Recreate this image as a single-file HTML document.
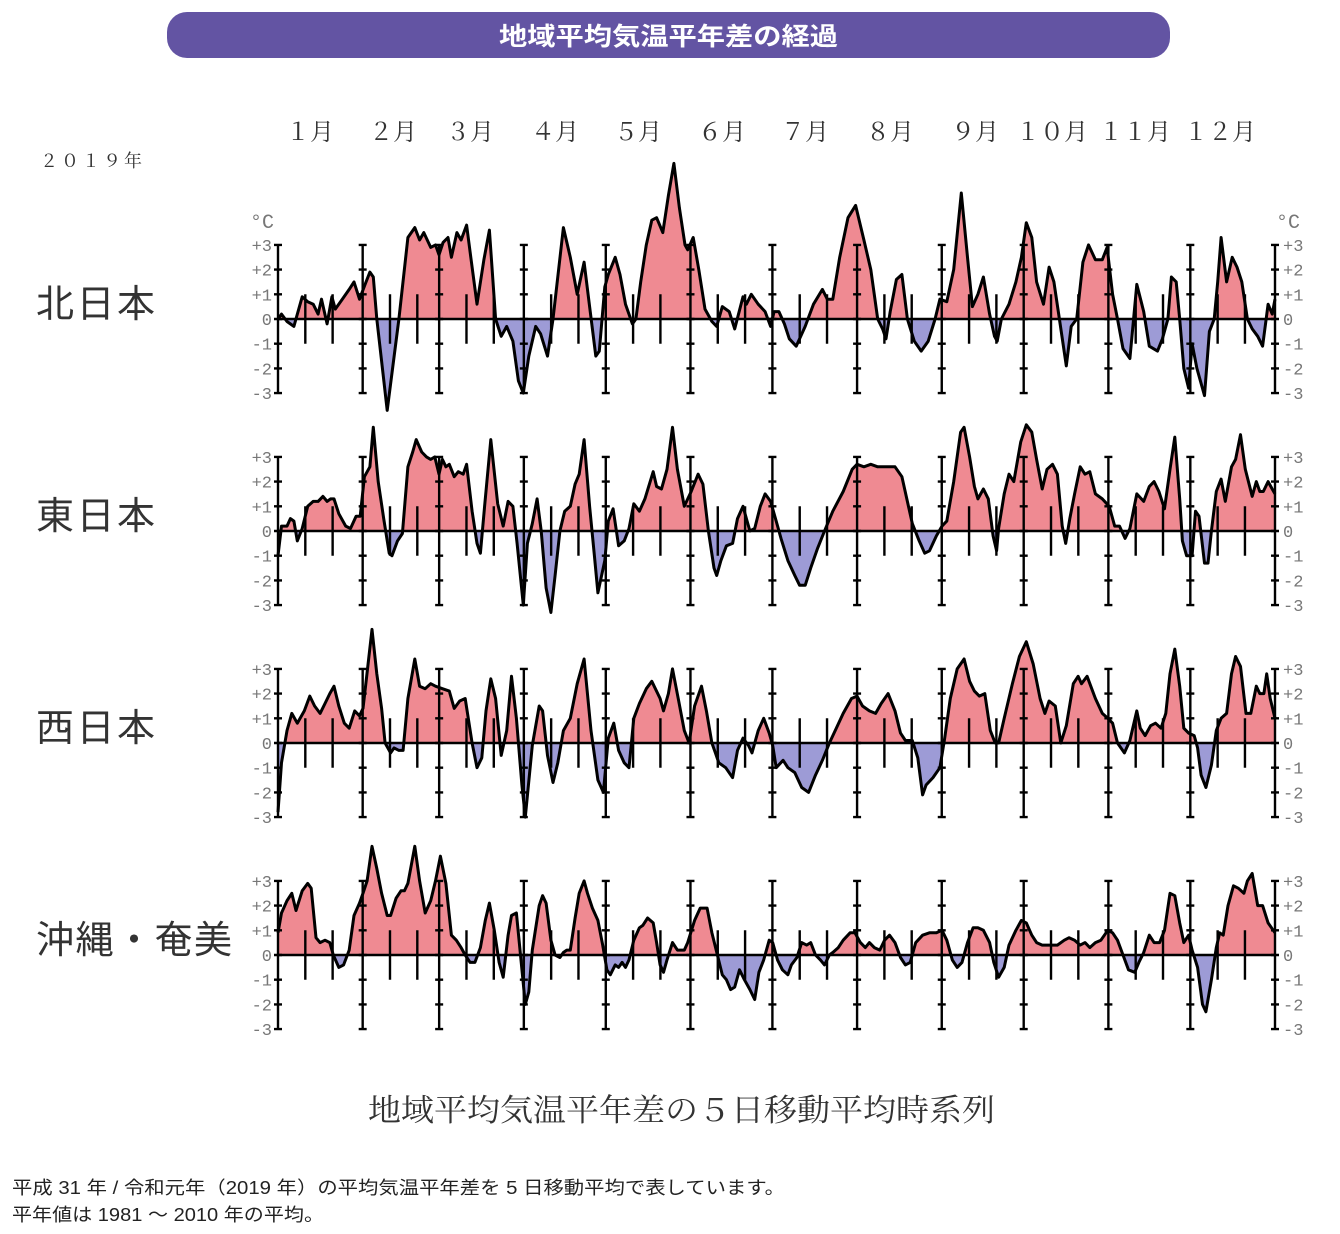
<!DOCTYPE html>
<html><head><meta charset="utf-8"><style>
body{margin:0;background:#fff;width:1340px;height:1234px;overflow:hidden;font-family:"Liberation Sans","Noto Sans CJK JP",sans-serif}
svg{position:absolute;left:0;top:0}
</style></head><body>
<svg id="s" width="1340" height="1234" xmlns="http://www.w3.org/2000/svg">
<rect x="167" y="12" width="1003" height="46" rx="20" fill="#6354a3"/>
<text x="499" y="45" fill="#fff" font-size="25" font-weight="bold" textLength="339" lengthAdjust="spacingAndGlyphs" font-family="Liberation Sans,Noto Sans CJK JP,sans-serif">地域平均気温平年差の経過</text>
<g font-family="Noto Serif CJK SC,serif" fill="#333" font-size="24" text-anchor="middle">
<text x="310" y="140">１月</text><text x="393" y="140">２月</text><text x="470" y="140">３月</text><text x="555" y="140">４月</text><text x="638" y="140">５月</text><text x="722" y="140">６月</text><text x="805" y="140">７月</text><text x="890" y="140">８月</text><text x="975" y="140">９月</text><text x="1052" y="140">１０月</text><text x="1135" y="140">１１月</text><text x="1220" y="140">１２月</text>
</g>
<text x="40" y="167" font-family="Noto Serif CJK SC,serif" font-size="18" fill="#333" letter-spacing="3">２０１９年</text>
<g font-family="Noto Sans CJK JP,sans-serif" font-size="38" fill="#333">
<text x="36" y="317" textLength="119">北日本</text><text x="36" y="529" textLength="119">東日本</text><text x="36" y="741" textLength="119">西日本</text><text x="36" y="953" textLength="196">沖縄・奄美</text>
</g>
<text x="368" y="1121" font-family="Noto Serif CJK SC,serif" font-size="31" fill="#333" textLength="627" lengthAdjust="spacingAndGlyphs">地域平均気温平年差の５日移動平均時系列</text>
<text x="12" y="1194" font-size="18" fill="#222" textLength="773" lengthAdjust="spacingAndGlyphs">平成 31 年 / 令和元年（2019 年）の平均気温平年差を 5 日移動平均で表しています。</text>
<text x="12" y="1221" font-size="18" fill="#222" textLength="312" lengthAdjust="spacingAndGlyphs">平年値は 1981 ～ 2010 年の平均。</text>
</svg>
<script>
const D=[
"57:0,62:0.2,70:-0.1,80:-0.3,92:0.9,100:0.7,108:0.6,115:0.2,120:0.8,128:-0.2,135:0.9,140:0.4,150:0.8,160:1.2,167:1.5,175:0.8,183:1.4,190:1.9,195:1.7,200:0,215:-3.7,232:0,245:3.3,255:3.7,262:3.2,268:3.5,278:2.9,285:3.0,290:2.6,296:3.1,303:3.3,308:2.5,316:3.5,322:3.2,330:3.8,336:2.5,345:0.6,355:2.4,363:3.6,372:0,380:-0.7,388:-0.3,397:-0.9,405:-2.5,412:-3.0,420:-1.5,430:-0.3,437:-0.6,447:-1.5,455:0,470:3.7,480:2.5,490:1.0,500:2.3,508:0.5,517:-1.5,522:-1.3,530:1.3,535:1.8,545:2.5,552:1.8,560:0.6,570:-0.2,575:0,582:1.5,590:3.0,598:4.0,605:4.1,614:3.5,622:5.0,630:6.3,638:4.5,646:3.0,650:2.8,658:3.3,666:2.0,675:0.4,685:-0.1,692:-0.3,700:0.5,710:0.3,718:-0.4,730:0.9,735:0.6,742:1.0,752:0.6,762:0.3,770:-0.3,775:0.3,782:0.3,790:-0.2,797:-0.8,807:-1.1,820:-0.3,832:0.6,845:1.2,852:0.8,860:0.8,870:2.5,882:4.1,893:4.6,905:3.2,915:2.0,925:0,932:-0.4,937:-0.8,943:0.3,952:1.6,960:1.8,968:0,978:-0.9,988:-1.3,998:-0.9,1008:0,1015:0.8,1025:0.7,1035:2.0,1046:5.1,1055:2.5,1062:0.5,1070:1.0,1078:1.7,1087:0.2,1094:-0.7,1098:-0.9,1104:0,1115:0.6,1125:1.5,1133:2.5,1140:3.9,1148:3.3,1155:1.5,1165:0.6,1173:2.1,1180:1.5,1188:0,1198:-1.9,1205:-0.3,1213:0,1222:2.3,1230:3.0,1240:2.4,1250:2.4,1257:2.9,1265:1.0,1272:0,1280:-1.2,1290:-1.6,1300:1.4,1310:0.3,1318:-1.1,1330:-1.3,1337:-0.8,1345:0,1350:1.7,1357:1.5,1362:0,1368:-2.0,1375:-2.8,1380:-1.0,1387:-2.0,1398:-3.1,1405:-0.5,1412:0,1417:1.5,1422:3.3,1430:1.5,1438:2.5,1445:2.1,1452:1.5,1460:0,1467:-0.4,1475:-0.7,1482:-1.1,1490:0.6,1496:0.2,1500:0.8",
"57:-1.0,62:0.2,70:0.2,75:0.5,80:0.4,85:-0.4,92:0.1,100:1.0,108:1.2,115:1.2,122:1.4,128:1.2,133:1.3,138:1.3,145:0.7,155:0.2,162:0.1,170:0.6,176:0.6,182:2.2,190:2.6,195:4.2,202:2.0,210:0.5,218:-0.9,222:-1.0,230:-0.4,237:-0.1,245:2.6,252:3.2,257:3.7,265:3.2,272:3.0,278:2.9,284:3.0,290:2.3,295:2.9,300:2.6,305:2.7,312:2.2,318:2.4,325:2.3,330:2.7,338:0.8,345:-0.5,350:-0.9,356:1.0,365:3.7,375:1.1,383:0.2,390:1.2,397:1.0,403:-0.5,412:-3.0,418:-0.5,425:0.3,432:1.3,438:0,445:-2.3,452:-3.3,458:-1.8,465:0,472:0.8,480:1.0,487:1.9,493:2.3,500:3.7,508:1.0,515:-1.0,520:-2.5,530:-1.2,535:0.4,542:0.9,550:-0.6,558:-0.4,565:0.1,572:1.1,580:0.8,588:1.3,600:2.4,605:1.8,612:1.7,620:2.5,628:4.2,635:2.5,645:1.0,655:1.6,665:2.3,672:1.9,680:0,688:-1.5,692:-1.8,698:-1.2,706:-0.6,715:-0.5,722:0.5,730:1.0,735:0.5,740:0,747:0.1,755:1.0,762:1.5,770:1.2,778:0.4,785:-0.3,795:-1.2,805:-1.8,812:-2.2,820:-2.2,828:-1.5,838:-0.7,848:0,860:0.8,875:1.6,888:2.5,895:2.7,905:2.6,915:2.7,925:2.6,935:2.6,950:2.6,960:2.2,975:0.3,985:-0.4,993:-0.9,1000:-0.8,1010:-0.2,1018:0.2,1025:0.4,1035:2.0,1045:4.0,1050:4.2,1058:3.0,1065:1.8,1070:1.3,1078:1.7,1085:1.3,1092:-0.2,1097:-0.8,1100:0.1,1108:1.5,1115:2.3,1122:2.0,1132:3.6,1140:4.3,1148:4.0,1155:2.9,1163:1.7,1170:2.5,1178:2.7,1185:2.3,1192:0.2,1197:-0.5,1203:0.5,1210:1.5,1218:2.6,1225:2.3,1232:2.4,1240:1.5,1250:1.3,1260:1.0,1268:0.2,1275:0.2,1283:-0.3,1290:0.1,1300:1.5,1310:1.2,1318:1.8,1325:2.0,1332:1.6,1340:0.9,1348:2.5,1355:3.8,1362:1.3,1366:-0.4,1372:-1.0,1380:-1.0,1385:0.8,1390:0.6,1398:-1.3,1403:-1.3,1408:0,1415:1.6,1422:2.1,1428:1.2,1437:2.6,1443:2.9,1450:3.9,1457:2.5,1467:1.4,1473:2.0,1478:1.6,1483:1.6,1490:2.0,1496:1.7,1500:1.5",
"57:-2.8,62:-0.8,70:0.5,77:1.2,85:0.8,95:1.3,103:1.9,110:1.5,118:1.2,125:1.6,132:2.0,138:2.3,145:1.5,153:0.8,160:0.6,168:1.3,175:1.1,180:1.4,185:2.6,193:4.6,200:2.8,207:1.4,212:0,220:-0.4,225:-0.2,232:-0.3,238:-0.3,245:1.8,255:3.4,262:2.3,270:2.2,278:2.4,285:2.3,295:2.2,305:2.1,312:1.4,320:1.7,328:1.8,338:0,345:-1.0,352:-0.6,358:1.3,365:2.6,372:1.8,380:-0.5,388:0.5,395:2.7,402:1.0,410:-1.7,415:-3.0,425:-0.1,435:1.5,440:1.3,447:-0.5,455:-1.6,462:-0.8,470:0.5,480:1.0,490:2.4,500:3.4,510:0.5,520:-1.5,528:-2.0,535:0.2,543:0.8,550:-0.3,558:-0.8,565:-1.0,572:1.0,580:1.6,590:2.2,598:2.5,610:1.8,615:1.3,622:2.0,628:3.0,637:1.7,645:0.5,652:0,660:1.5,670:2.3,677:1.3,685:0,690:-0.4,695:-0.8,705:-1.0,715:-1.4,722:-0.3,730:0.2,738:-0.1,743:-0.4,752:0.5,760:1.0,768:0.4,773:-0.1,778:-1.0,788:-0.7,795:-1.0,805:-1.2,815:-1.8,825:-2.0,835:-1.3,845:-0.7,855:0,865:0.6,875:1.2,887:1.8,895:1.9,903:1.5,913:1.3,922:1.2,930:1.6,940:2.0,950:1.3,958:0.4,965:0.1,975:0.1,983:-0.6,990:-2.1,995:-1.7,1005:-1.4,1015:-1.0,1022:0.2,1030:1.8,1040:3.0,1050:3.4,1058:2.5,1065:2.1,1072:1.9,1080:2.0,1088:0.5,1095:0,1100:0,1108:1.0,1120:2.4,1130:3.5,1140:4.1,1150:3.2,1160:1.8,1167:1.2,1173:1.7,1182:1.5,1190:0,1198:0.7,1208:2.4,1215:2.7,1220:2.4,1228:2.7,1240:1.8,1250:1.2,1258:1.0,1265:0.8,1272:0,1282:-0.4,1290:0.1,1300:1.3,1305:0.6,1312:0.3,1320:0.7,1327:0.8,1335:0.6,1342:1.2,1348:2.8,1355:3.8,1362:2.3,1368:0.6,1375:0.4,1383:0.3,1388:-0.2,1393:-1.3,1400:-1.8,1408:-0.9,1415:0.5,1422:1.0,1430:1.2,1437:2.8,1443:3.5,1450:3.1,1458:1.2,1465:1.2,1473:2.3,1478:2.0,1484:2.0,1488:2.8,1493:1.8,1500:1.0",
"57:0.9,62:1.7,70:2.2,77:2.5,83:1.8,92:2.6,100:2.9,105:2.7,112:0.7,118:0.5,125:0.6,132:0.5,137:0,145:-0.5,152:-0.4,160:0.2,167:1.6,175:2.1,180:2.5,186:3.0,193:4.4,200:3.5,207:2.5,215:1.6,220:1.6,228:2.3,235:2.6,240:2.6,245:2.9,255:4.4,262:3.0,270:1.7,278:2.2,285:3.0,292:4.0,300:2.9,308:0.8,315:0.6,322:0.3,328:0,335:-0.3,342:-0.3,350:0.3,357:1.4,363:2.1,370:1.0,377:-0.3,383:-0.9,390:0.8,395:1.6,402:1.7,408:0,415:-2.0,420:-1.5,425:0.2,435:2.0,440:2.4,445:2.1,452:0.6,458:0,465:-0.1,470:0.1,475:0.2,480:0.2,487:1.5,493:2.5,500:3.0,505:2.5,512:1.9,520:1.4,527:0.4,533:-0.6,538:-0.8,545:-0.4,550:-0.5,555:-0.3,560:-0.5,565:-0.2,572:0.6,580:1.1,585:1.2,592:1.5,600:1.3,605:0.5,610:-0.4,615:-0.7,620:-0.2,628:0.5,635:0.2,645:0.2,650:0.5,660:1.4,668:1.9,678:1.9,685:0.9,693:0,700:-0.8,706:-1.0,712:-1.4,718:-1.3,725:-0.6,732:-1.0,740:-1.4,747:-1.8,753:-0.7,760:-0.2,768:0.6,773:0.5,780:-0.2,787:-0.6,795:-0.8,800:-0.4,808:-0.1,815:0.5,822:0.4,828:0.5,835:0,842:-0.2,848:-0.4,855:0,860:0.1,868:0.3,875:0.6,885:0.9,892:0.9,900:0.5,907:0.3,913:0.5,920:0.3,928:0.2,935:0.6,942:0.8,950:0.5,958:-0.1,965:-0.4,972:-0.3,980:0.5,990:0.8,1000:0.9,1010:0.9,1018:1.0,1025:0.6,1033:-0.2,1040:-0.5,1047:-0.3,1055:0.5,1063:1.1,1070:1.1,1078:1.0,1087:0.5,1093:-0.3,1100:-0.9,1108:-0.5,1115:0.4,1125:1.0,1133:1.4,1140:1.3,1148:0.8,1155:0.5,1163:0.4,1175:0.4,1185:0.4,1195:0.6,1202:0.7,1210:0.6,1218:0.4,1225:0.5,1232:0.3,1240:0.5,1248:0.6,1258:1.0,1265:0.9,1272:0.6,1280:0,1288:-0.6,1297:-0.7,1303:-0.3,1310:0.1,1318:0.8,1325:0.5,1333:0.5,1340:1.0,1348:2.5,1355:2.4,1362:1.3,1368:0.5,1375:0.8,1380:0.2,1388:-0.5,1395:-2.0,1400:-2.3,1408:-1.0,1415:0.3,1420:0.9,1425:0.8,1432:2.0,1440:2.8,1447:2.7,1455:2.5,1460:3.0,1467:3.3,1475:2.0,1482:2.0,1490:1.3,1500:0.9"];
const Z=[319,531,743,955],K=24.7,X0=278,X1=1275;
const mdays=[0,31,59,90,120,151,181,212,243,273,304,334,365];
const dx=d=>X0+d*(X1-X0)/365;
let h='<defs>';
Z.forEach((z,i)=>{h+=`<clipPath id="a${i}"><rect x="0" y="0" width="1340" height="${z}"/></clipPath><clipPath id="b${i}"><rect x="0" y="${z}" width="1340" height="300"/></clipPath>`;});
h+='</defs>';
Z.forEach((z,i)=>{
 const pts=D[i].split(',').map(s=>{const [a,b]=s.split(':').map(Number);return [X0+(a-57)*(X1-X0)/1443,z-b*K];});
 const line=pts.map((p,j)=>(j?'L':'M')+p[0].toFixed(1)+' '+p[1].toFixed(1)).join('');
 const poly=line+`L${X1} ${z}L${X0} ${z}Z`;
 h+=`<path d="${poly}" fill="#ef8a92" clip-path="url(#a${i})"/><path d="${poly}" fill="#9d9bd6" clip-path="url(#b${i})"/>`;
 let t='';
 mdays.forEach(d=>{const x=dx(d);t+=`M${x} ${z-3*K}V${z+3*K}`;for(let k=-3;k<=3;k++)t+=`M${x-4} ${z+k*K}h8`;});
 for(let m=0;m<12;m++){[10,20].forEach(o=>{const x=dx(mdays[m]+o);t+=`M${x} ${z-K}V${z+K}`;});}
 h+=`<path d="${t}" stroke="#000" stroke-width="2.4" fill="none"/>`;
 h+=`<path d="M${X0} ${z}H${X1}" stroke="#000" stroke-width="2.6"/>`;
 h+=`<path d="${line}" stroke="#000" stroke-width="3" fill="none" stroke-linejoin="round"/>`;
 const lab=['+3','+2','+1','0','-1','-2','-3'];
 lab.forEach((l,k)=>{const y=z+(k-3)*K+6;
  h+=`<text x="272" y="${y}" text-anchor="end" font-family="Liberation Mono,monospace" font-size="17" fill="#777">${l}</text>`;
  h+=`<text x="1283" y="${y}" font-family="Liberation Mono,monospace" font-size="17" fill="#777">${l}</text>`;});
 if(i==0){h+=`<text x="250" y="228" font-family="Liberation Mono,monospace" font-size="20" fill="#777">°C</text><text x="1276" y="228" font-family="Liberation Mono,monospace" font-size="20" fill="#777">°C</text>`;}
});
document.getElementById('s').insertAdjacentHTML('beforeend',h);
</script>
</body></html>
